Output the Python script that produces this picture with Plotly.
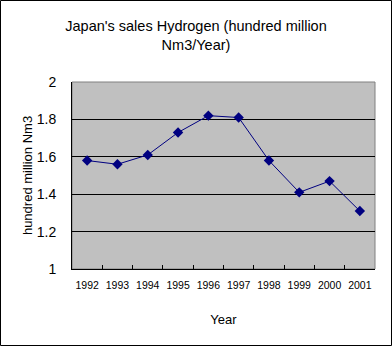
import plotly.graph_objects as go

years = ["1992", "1993", "1994", "1995", "1996", "1997", "1998", "1999", "2000", "2001"]
sales = [1.58, 1.56, 1.61, 1.73, 1.82, 1.81, 1.58, 1.41, 1.47, 1.31]
y_ticks = [1, 1.2, 1.4, 1.6, 1.8, 2]
y_tick_labels = ["1", "1.2", "1.4", "1.6", "1.8", "2"]

W, H = 392, 346
L, R, T, B = 72, 17, 82, 77
pw, ph = W - L - R, H - T - B

font = "Liberation Sans, Arial, sans-serif"

fig = go.Figure()
fig.add_trace(go.Scatter(
    x=years, y=sales, mode="lines+markers",
    line=dict(color="#000080", width=1),
    marker=dict(symbol="diamond", size=8, color="#000080"),
    showlegend=False,
))

fig.update_layout(
    width=W, height=H,
    margin=dict(l=L, r=R, t=T, b=B),
    paper_bgcolor="white", plot_bgcolor="#C0C0C0",
    font=dict(family=font, color="black", size=11),
    title=dict(text="Japan's sales Hydrogen (hundred million<br>Nm3/Year)",
               x=0.5, xref="container", xanchor="center",
               y=1 - 31 / H, yref="container", yanchor="middle",
               font=dict(size=14.5, family=font)),
    xaxis=dict(type="category", range=[-0.5, 9.5], tickson="boundaries",
               ticks="inside", ticklen=4, tickcolor="black", tickangle=0,
               ticklabelstandoff=6,
               showline=True, linecolor="black", linewidth=1, mirror=False,
               showgrid=False, tickfont=dict(size=10.5),
               title=dict(text="Year", font=dict(size=13), standoff=25)),
    yaxis=dict(range=[1, 2], tickvals=y_ticks, ticktext=y_tick_labels,
               ticks="", ticklabelstandoff=12,
               showline=True, linecolor="black", linewidth=1,
               showgrid=True, gridcolor="black", gridwidth=1,
               tickfont=dict(size=14), zeroline=False,
               title=dict(text="hundred million Nm3", font=dict(size=13), standoff=1)),
    shapes=[
        dict(type="rect", xref="paper", yref="paper",
             x0=(-L + 0.5) / pw, x1=1 + (R - 0.5) / pw,
             y0=(-B + 0.5) / ph, y1=1 + (T - 0.5) / ph,
             line=dict(color="black", width=1), fillcolor="rgba(0,0,0,0)", layer="above"),
        dict(type="rect", xref="paper", yref="paper", x0=0, x1=1, y0=0, y1=1,
             line=dict(color="#808080", width=1), fillcolor="rgba(0,0,0,0)", layer="below"),
    ],
)

fig.write_html("out.html")
